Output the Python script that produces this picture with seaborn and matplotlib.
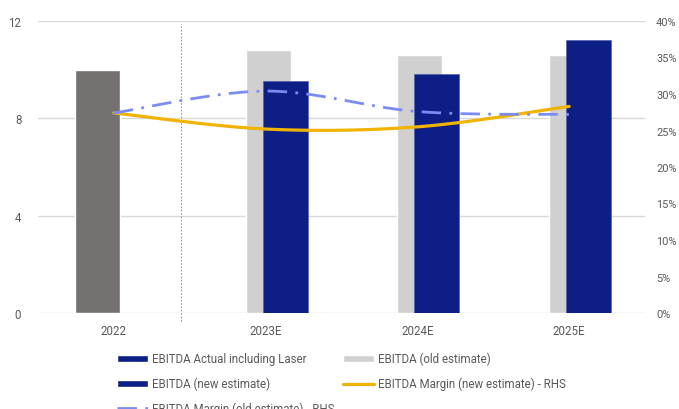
import numpy as np
import matplotlib
matplotlib.use("Agg")
import matplotlib.pyplot as plt
import seaborn as sns
from matplotlib.patches import Patch
from matplotlib.lines import Line2D
from matplotlib.ticker import FuncFormatter

categories = ["2022", "2023E", "2024E", "2025E"]
ebitda_actual = [10.0, np.nan, np.nan, np.nan]
ebitda_old = [np.nan, 10.8, 10.6, 10.6]
ebitda_new = [np.nan, 9.55, 9.82, 11.2]
margin_new = [0.274, 0.252, 0.255, 0.283]
margin_old = [0.274, 0.304, 0.276, 0.272]
left_ticks = [0, 4, 8, 12]
right_ticks = [0, 0.05, 0.10, 0.15, 0.20, 0.25, 0.30, 0.35, 0.40]
legend_labels = ["EBITDA Actual including Laser", "EBITDA (new estimate)",
                 "EBITDA Margin (old estimate) - RHS", "EBITDA (old estimate)",
                 "EBITDA Margin (new estimate) - RHS"]

sns.set_style("white")
plt.rcParams["font.family"] = ["Roboto", "DejaVu Sans"]

C_ACT = "#757170"
C_NAVY = "#0D1F87"
C_OLD = "#D0D0D0"
C_YEL = "#F0B400"
C_DASH = "#7B8CF0"
TXT = "#595959"

fig = plt.figure(figsize=(6.79, 4.10), dpi=100)
ax = fig.add_axes([38/679, 1-314/410, (645-38)/679, (314-22)/410])
ax2 = ax.twinx()

x = np.arange(len(categories))
w = 0.296
ax.bar(x - 0.105, ebitda_actual, width=w, color=C_ACT, zorder=2)
ax.bar(x + 0.016, ebitda_old, width=w, color=C_OLD, zorder=2)
ax.bar(x + 0.128, ebitda_new, width=w, color=C_NAVY, edgecolor="#4a58a8", linewidth=0.4, zorder=3)

def smooth(xs, ys, n=40):
    xs = np.asarray(xs, float); ys = np.asarray(ys, float)
    P = np.column_stack([xs, ys])
    out = []
    for i in range(len(P) - 1):
        p0 = P[i - 1] if i > 0 else P[i]
        p1 = P[i]; p2 = P[i + 1]
        p3 = P[i + 2] if i + 2 < len(P) else P[i + 1]
        c1 = p1 + (p2 - p0) / 6
        c2 = p2 - (p3 - p1) / 6
        t = np.linspace(0, 1, n)[:, None]
        seg = ((1-t)**3)*p1 + 3*((1-t)**2)*t*c1 + 3*(1-t)*t**2*c2 + t**3*p2
        out.append(seg if i == 0 else seg[1:])
    s = np.vstack(out)
    return s[:, 0], s[:, 1]

sx, sy = smooth(x, margin_new)
sns.lineplot(x=sx, y=sy, ax=ax2, sort=False, color=C_YEL, linewidth=2.3, zorder=4)
ox, oy = smooth(x, margin_old)
sns.lineplot(x=ox, y=oy, ax=ax2, sort=False, color=C_DASH, linewidth=2.0, zorder=4)
ax2.lines[-1].set_dashes([7, 3, 1, 3])

ax.set_xlim(-0.5, 3.5)
ax.set_ylim(0, 12)
ax2.set_ylim(0, 0.40)
ax.set_yticks(left_ticks)
ax.set_yticklabels([str(t) for t in left_ticks])
ax2.set_yticks(right_ticks)
ax2.yaxis.set_major_formatter(FuncFormatter(lambda v, p: f"{v*100:.0f}%"))
ax.set_xticks(x)
ax.set_xticklabels(categories)

ax.grid(axis="y", color="#D9D9D9", linewidth=1.0, zorder=0)
ax.set_axisbelow(True)
for a in (ax, ax2):
    for s in a.spines.values():
        s.set_visible(False)
ax.tick_params(axis="both", length=0, colors=TXT, labelsize=8.3)
ax.tick_params(axis="y", pad=12)
ax.tick_params(axis="x", pad=8)
ax2.tick_params(axis="y", length=0, colors=TXT, labelsize=7.9, pad=8)

ax.plot([0.44, 0.44], [-0.027, 0.99], transform=ax.get_xaxis_transform(),
        color="#999999", linestyle=(0, (1.5, 1.5)), linewidth=0.8, clip_on=False, zorder=1)

handles = [Patch(facecolor=C_NAVY), Patch(facecolor=C_NAVY),
           Line2D([], [], color=C_DASH, linewidth=2.0, dashes=[7, 3, 1, 3]),
           Patch(facecolor=C_OLD),
           Line2D([], [], color=C_YEL, linewidth=2.3)]
leg = fig.legend(handles, legend_labels, ncol=2, loc="upper left",
                 bbox_to_anchor=(117/679, 1-353/410), frameon=False,
                 fontsize=8.3, labelcolor=TXT, handlelength=2.7, handleheight=0.6,
                 handletextpad=0.3, labelspacing=1.0, columnspacing=0.8,
                 borderpad=0, borderaxespad=0)

fig.savefig("out.png", dpi=100)
